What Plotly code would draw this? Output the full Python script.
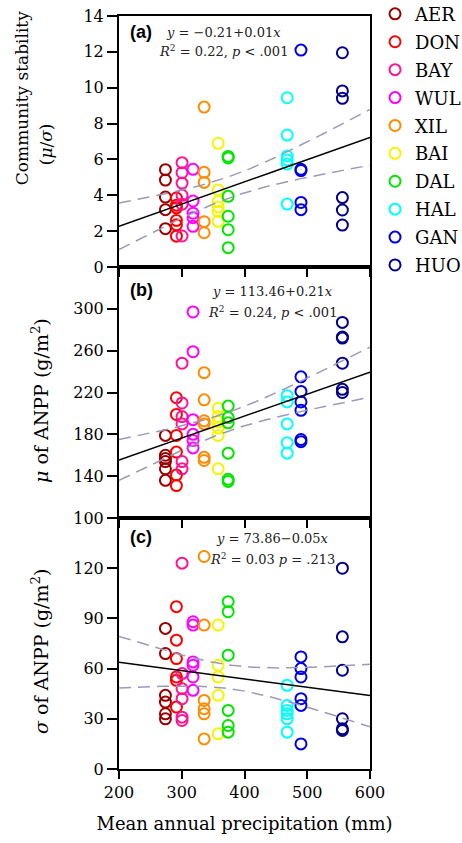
import numpy as np
import plotly.graph_objects as go
from plotly.subplots import make_subplots

# Sites ordered along the precipitation gradient
sites = ["AER", "DON", "BAY", "WUL", "XIL", "BAI", "DAL", "HAL", "GAN", "HUO"]
site_colors = ["#990000", "#ff0000", "#ff1493", "#ff00ff", "#ff8c00",
               "#f5f500", "#00e600", "#00ffff", "#0000e6", "#00008c"]
map_mm = [274, 291.5, 300.5, 318, 335.7, 358, 374, 468, 490, 556]

# Community stability (mu/sigma) per plot at each site
stability = [
    [5.43, 4.85, 3.9, 3.2, 2.14],
    [3.85, 3.45, 3.3, 2.6, 2.35, 1.72],
    [5.82, 5.26, 4.68, 4.0, 3.5, 1.73],
    [5.45, 3.68, 3.0, 2.75, 2.27],
    [8.92, 5.28, 4.72, 2.53, 1.91],
    [6.9, 4.3, 3.65, 3.35, 3.1, 2.55],
    [6.17, 6.08, 3.94, 2.83, 2.08, 1.08],
    [9.44, 7.36, 6.19, 5.97, 5.74, 3.51],
    [12.1, 5.45, 5.38, 3.6, 3.2],
    [11.95, 9.82, 9.41, 3.87, 3.18, 2.34],
]
# Temporal mean of ANPP (g/m2)
mean_anpp = [
    [179, 160, 157, 154, 147, 136],
    [215, 199, 179, 163, 141, 131],
    [248, 210, 197, 190, 154, 147],
    [297, 259, 194, 180, 174, 167],
    [239, 213, 193, 190, 158, 155],
    [205, 197, 192, 186, 179, 147],
    [207, 196, 191, 162, 137, 135],
    [217, 211, 190, 172, 162],
    [235, 221, 211, 203, 175, 173],
    [287, 273, 272, 248, 223, 220],
]
# Temporal standard deviation of ANPP (g/m2)
sd_anpp = [
    [84, 69, 44, 40, 33, 30],
    [97, 77, 66, 55, 53, 37],
    [123, 57, 48, 42, 31, 29],
    [88, 86, 64, 62, 55, 47],
    [127, 86, 41, 36, 33, 18],
    [86, 62, 55, 44, 21],
    [100, 94, 68, 35, 26, 22],
    [50, 38, 35, 33, 30, 22],
    [67, 60, 55, 42, 38, 15],
    [120, 79, 59, 30, 24, 23],
]

# Regression coefficients (intercept, slope) for each panel
fits = [(-0.21, 0.0124), (113.46, 0.21), (73.86, -0.05)]
eq_lines = [
    ("<i>y</i> = \u22120.21+0.01<i>x</i>", "<i>R</i><sup>2</sup> = 0.22, <i>p</i> < .001"),
    ("<i>y</i> = 113.46+0.21<i>x</i>", "<i>R</i><sup>2</sup> = 0.24, <i>p</i> < .001"),
    ("<i>y</i> = 73.86\u22120.05<i>x</i>", "<i>R</i><sup>2</sup> = 0.03 <i>p</i> = .213"),
]
panel_tags = ["(a)", "(b)", "(c)"]
y_ranges = [[0, 14], [100, 340], [0, 150]]
y_ticks = [list(range(0, 15, 2)), list(range(100, 301, 40)), list(range(0, 121, 30))]
x_ticks = [200, 300, 400, 500, 600]

SERIF = "DejaVu Serif"
band_color = "#9a9ab8"

fig = make_subplots(rows=3, cols=1, shared_xaxes=True, vertical_spacing=0)

panels = [stability, mean_anpp, sd_anpp]
xs_line = np.linspace(200, 600, 201)
for p, data in enumerate(panels):
    row = p + 1
    for s, name in enumerate(sites):
        vals = data[s]
        fig.add_trace(go.Scatter(
            x=[map_mm[s]] * len(vals), y=vals, mode="markers", name=name,
            legendgroup=name, showlegend=(p == 0),
            marker=dict(symbol="circle-open", size=11, color=site_colors[s],
                        line=dict(width=2, color=site_colors[s])),
        ), row=row, col=1)

    # regression line with 95% confidence band
    x_all = np.concatenate([[map_mm[s]] * len(data[s]) for s in range(len(sites))])
    y_all = np.concatenate([data[s] for s in range(len(sites))]).astype(float)
    b0, b1 = fits[p]
    n = len(x_all)
    resid = y_all - (b0 + b1 * x_all)
    s_err = np.sqrt(np.sum(resid ** 2) / (n - 2))
    xbar = x_all.mean()
    sxx = np.sum((x_all - xbar) ** 2)
    t_crit = 2.005
    fit_y = b0 + b1 * xs_line
    half = t_crit * s_err * np.sqrt(1.0 / n + (xs_line - xbar) ** 2 / sxx)
    for band in (fit_y + half, fit_y - half):
        fig.add_trace(go.Scatter(
            x=xs_line, y=band, mode="lines", showlegend=False, hoverinfo="skip",
            line=dict(color=band_color, width=1.5, dash="12px,7px"),
        ), row=row, col=1)
    fig.add_trace(go.Scatter(
        x=xs_line, y=fit_y, mode="lines", showlegend=False, hoverinfo="skip",
        line=dict(color="black", width=1.5),
    ), row=row, col=1)

axis_line = dict(showline=True, linecolor="black", linewidth=2, mirror=True,
                 showgrid=False, zeroline=False, ticks="outside",
                 tickcolor="black", tickwidth=1.5)

for i in range(3):
    xa = "xaxis" if i == 0 else f"xaxis{i + 1}"
    ya = "yaxis" if i == 0 else f"yaxis{i + 1}"
    fig.layout[xa].update(range=[200, 600], tickvals=x_ticks, ticklen=8,
                          showticklabels=(i == 2),
                          tickfont=dict(family=SERIF, size=16, color="black"),
                          **axis_line)
    fig.layout[ya].update(range=y_ranges[i], tickvals=y_ticks[i], ticklen=10,
                          tickfont=dict(family=SERIF, size=16, color="black"),
                          **axis_line)

fig.layout.xaxis3.title = dict(text="Mean annual precipitation (mm)",
                               font=dict(family=SERIF, size=18, color="black"),
                               standoff=16)

annotations = []
# y-axis titles: (text, x in paper units, y in panel-domain units, font size)
y_titles = [
    [("Community stability", -0.386, 0.673, 17),
     ("(<i>\u03bc</i>/<i>\u03c3</i>)", -0.29, 0.49, 17)],
    [("<i>\u03bc</i> of ANPP (g/m<sup>2</sup>)", -0.315, 0.47, 19)],
    [("<i>\u03c3</i> of ANPP (g/m<sup>2</sup>)", -0.315, 0.47, 19)],
]
tag_y = [0.936, 0.908, 0.924]
eq_y = [(0.936, 0.861), (0.904, 0.821), (0.92, 0.837)]
eq_x = [367, 444, 444]
for i in range(3):
    yref = "y domain" if i == 0 else f"y{i + 1} domain"
    xref = "x" if i == 0 else f"x{i + 1}"
    for text, xp, yp, fs in y_titles[i]:
        annotations.append(dict(text=text, xref="paper", yref=yref, x=xp, y=yp,
                                textangle=-90, showarrow=False, xanchor="center",
                                yanchor="middle",
                                font=dict(family=SERIF, size=fs, color="black")))
    annotations.append(dict(text=f"<b>{panel_tags[i]}</b>", xref="paper", yref=yref,
                            x=0.034, y=tag_y[i], showarrow=False, xanchor="left",
                            yanchor="middle",
                            font=dict(family="Liberation Sans", size=18, color="black")))
    for line_text, yy in zip(eq_lines[i], eq_y[i]):
        annotations.append(dict(text=line_text, xref=xref, yref=yref, x=eq_x[i], y=yy,
                                showarrow=False, xanchor="center", yanchor="middle",
                                font=dict(family=SERIF, size=13, color="#222222")))

fig.update_layout(
    width=462, height=843,
    margin=dict(l=119, r=92, t=16, b=74, autoexpand=False),
    paper_bgcolor="white", plot_bgcolor="white",
    annotations=annotations,
    legend=dict(x=1.02, y=1.027, xanchor="left", yanchor="top",
                font=dict(family=SERIF, size=18, color="black"),
                tracegroupgap=1.5, itemsizing="trace",
                bgcolor="rgba(0,0,0,0)"),
)

fig.write_html("out.html")
